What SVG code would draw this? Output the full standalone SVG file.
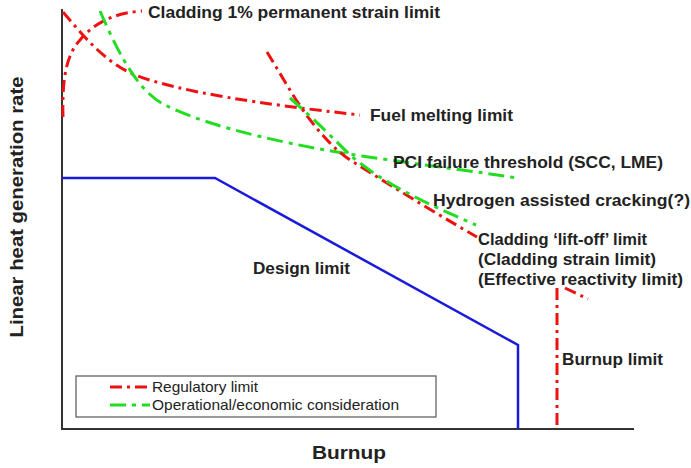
<svg xmlns="http://www.w3.org/2000/svg" width="691" height="468" viewBox="0 0 691 468">
<style>
.red{fill:none;stroke:#ee1111;stroke-width:3;stroke-dasharray:12 5 3 5}
.grn{fill:none;stroke:#22dd22;stroke-width:3;stroke-dasharray:16 6 4 6}
.lbl{font-family:"Liberation Sans",Arial,sans-serif;font-weight:bold;font-size:17px;fill:#222}
.leg{font-family:"Liberation Sans",Arial,sans-serif;font-size:15px;fill:#222}
</style>
<rect width="691" height="468" fill="#fff"/>
<g id="axes" stroke="#333" stroke-width="2" fill="none">
<path d="M62 9 V429 H634"/>
</g>
<g id="connectors">
<path id="design" d="M62 178 H215 L518 345 V429" fill="none" stroke="#1a1adb" stroke-width="2.5"/>
<path id="clad1" class="red" d="M63 117 C62 80 66 55 80 40 C95 22 115 13 142 11"/>
<path id="fuelmelt" class="red" d="M63 12 C85 38 105 62 135 75 C180 92 260 104 360 115"/>
<path id="pci" class="grn" d="M100 11 C115 45 135 90 165 105 C210 128 300 148 390 160 C430 166 480 172 517 178"/>
<path id="liftoff" class="red" d="M267 52 L293 95 C315 130 335 150 350 160 C390 185 430 210 477 237"/>
<path id="hydrogen" class="grn" d="M290 98 C315 120 335 140 350 155 C385 185 430 205 476 225"/>
<path id="burnuplim" class="red" d="M557 288 V429"/>
<path class="red" d="M565 288 L588 299"/>
</g>
<g id="labels">
<text class="lbl" x="148" y="18" textLength="292" lengthAdjust="spacingAndGlyphs">Cladding 1% permanent strain limit</text>
<text class="lbl" x="370" y="121" textLength="143" lengthAdjust="spacingAndGlyphs">Fuel melting limit</text>
<text class="lbl" x="393" y="168" textLength="270" lengthAdjust="spacingAndGlyphs">PCI failure threshold (SCC, LME)</text>
<text class="lbl" x="433" y="206" textLength="257" lengthAdjust="spacingAndGlyphs">Hydrogen assisted cracking(?)</text>
<text class="lbl" x="478" y="245" textLength="169" lengthAdjust="spacingAndGlyphs">Cladding ‘lift-off’ limit</text>
<text class="lbl" x="478" y="265" textLength="178" lengthAdjust="spacingAndGlyphs">(Cladding strain limit)</text>
<text class="lbl" x="478" y="285" textLength="205" lengthAdjust="spacingAndGlyphs">(Effective reactivity limit)</text>
<text class="lbl" x="253" y="274" textLength="97" lengthAdjust="spacingAndGlyphs">Design limit</text>
<text class="lbl" x="562" y="365" textLength="101" lengthAdjust="spacingAndGlyphs">Burnup limit</text>
<text class="lbl" x="312" y="459" style="font-size:19px" textLength="74" lengthAdjust="spacingAndGlyphs">Burnup</text>
<text class="lbl" x="0" y="0" style="font-size:18px" text-anchor="middle" textLength="261" lengthAdjust="spacingAndGlyphs" transform="translate(23 207) rotate(-90)">Linear heat generation rate</text>
</g>
<g id="legend">
<rect x="76" y="376" width="360" height="41" fill="#fff" stroke="#555" stroke-width="1.2"/>
<path d="M110 387 H150" class="red"/>
<path d="M110 405 H150" class="grn" stroke-width="3.5"/>
<text class="leg" x="152" y="392" textLength="106" lengthAdjust="spacingAndGlyphs">Regulatory limit</text>
<text class="leg" x="152" y="410" textLength="247" lengthAdjust="spacingAndGlyphs">Operational/economic consideration</text>
</g>
</svg>
